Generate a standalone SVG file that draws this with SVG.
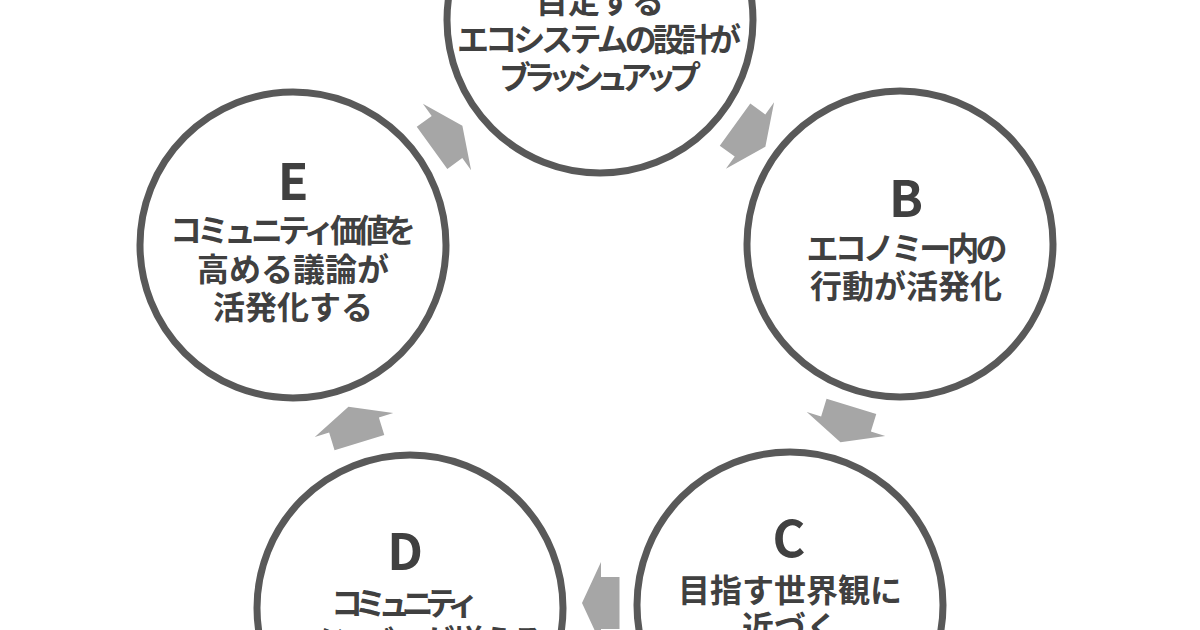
<svg xmlns="http://www.w3.org/2000/svg" xmlns:xlink="http://www.w3.org/1999/xlink" width="1200" height="630" viewBox="0 0 1200 630">
<style>
.c{fill:#ffffff;stroke:#595959;stroke-width:7}
.t{font-family:"Noto Sans CJK JP","Noto Sans",sans-serif;font-weight:700;fill:#404040;text-anchor:middle;font-size:32px}
.L{font-size:50px}
.arr{fill:#a6a6a6}
</style>
<defs>
<polygon id="ar" class="arr" points="19,0 0,-41 0,-26 -18.5,-26 -18.5,26 0,26 0,41"/>
</defs>
<rect width="1200" height="630" fill="#ffffff"/>
<g id="connectors">
<use xlink:href="#ar" href="#ar" transform="translate(447,137) rotate(-36)"/>
<use xlink:href="#ar" href="#ar" transform="translate(750,135.5) rotate(36)"/>
<use xlink:href="#ar" href="#ar" transform="translate(846,424) rotate(107)"/>
<use xlink:href="#ar" href="#ar" transform="translate(601,603) rotate(180)"/>
<use xlink:href="#ar" href="#ar" transform="translate(354,425) rotate(-107)"/>
</g>
<g id="node-A">
<circle class="c" cx="600" cy="20" r="153"/>
<text class="t" x="600" y="13">目定する</text>
<text class="t" x="599" y="51" textLength="284" lengthAdjust="spacing">エコシステムの設計が</text>
<text class="t" x="600" y="89" textLength="202" lengthAdjust="spacing">ブラッシュアップ</text>
</g>
<g id="node-B">
<circle class="c" cx="900" cy="244" r="153"/>
<text class="t L" x="906" y="217">B</text>
<text class="t" x="907" y="260" textLength="201" lengthAdjust="spacing">エコノミー内の</text>
<text class="t" x="906" y="298">行動が活発化</text>
</g>
<g id="node-C">
<circle class="c" cx="790" cy="605" r="153"/>
<text class="t L" x="789" y="557">C</text>
<text class="t" x="790" y="602">目指す世界観に</text>
<text class="t" x="790" y="639">近づく</text>
</g>
<g id="node-D">
<circle class="c" cx="410" cy="608" r="153"/>
<text class="t L" x="405" y="570">D</text>
<text class="t" x="405" y="615" textLength="148" lengthAdjust="spacing">コミュニティ</text>
<text class="t" x="423" y="653" textLength="242" lengthAdjust="spacing">メンバーが増える</text>
</g>
<g id="node-E">
<circle class="c" cx="293" cy="245" r="153"/>
<text class="t L" x="293" y="200">E</text>
<text class="t" x="293" y="242" textLength="246" lengthAdjust="spacing">コミュニティ価値を</text>
<text class="t" x="293" y="281">高める議論が</text>
<text class="t" x="293" y="319">活発化する</text>
</g>
</svg>
